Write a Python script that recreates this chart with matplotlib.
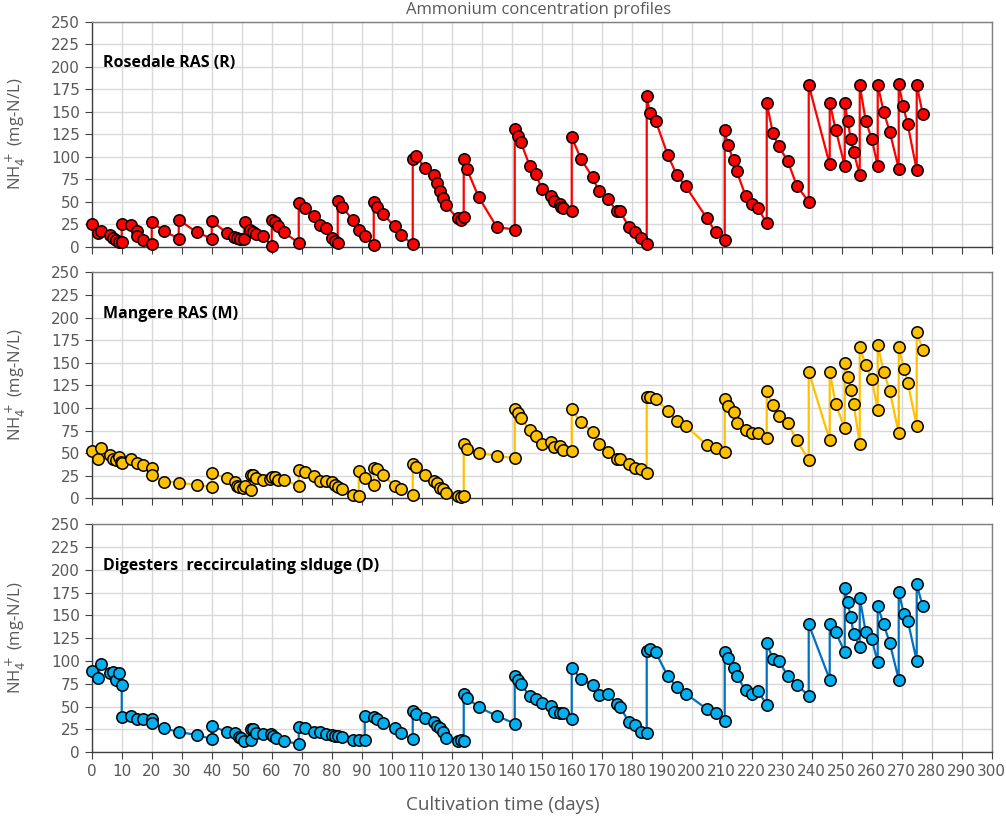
import matplotlib.pyplot as plt
import numpy as np

# Rosedale RAS (R)
days_r = [0, 2, 3, 6, 7, 8, 9, 10, 10, 13, 15, 15, 17, 20, 20, 24, 29, 29, 35, 40,
          40, 45, 47.5, 48.4, 49.5, 50.7, 51, 52.8, 53.7, 54.8, 57, 60, 60, 61, 62, 64,
          69, 69, 71, 74, 76, 78, 80, 81, 82, 82, 83.3, 87, 89, 91, 94, 94, 95, 97,
          101, 103, 107, 107, 108, 111, 114, 115, 116, 117, 118, 122, 123, 124, 124,
          125, 129, 135, 141, 141, 142, 143, 146, 148, 150, 153, 154, 156, 156.5, 157,
          160, 160, 163, 167, 169, 172, 175, 176, 179, 181, 183, 185, 185, 186, 188,
          192, 195, 198, 205, 208, 211, 211, 212, 214, 215, 218, 220, 222, 225, 225,
          227, 229, 232, 235, 239, 239, 246, 246, 248, 251, 251, 252, 253, 254, 256,
          256, 258, 260, 262, 262, 264, 266, 269, 269, 270.5, 272, 275, 275, 277]
nh4_r = [25, 15, 18, 13, 10, 7.5, 5.7, 5, 25, 24.5, 17, 12, 7, 3, 28, 17.5, 9, 30, 16, 9,
         29, 15, 11, 10, 8.5, 9, 28, 19, 16.5, 13.6, 12, 1, 30, 27.5, 22.5, 16,
         4.3, 48.4, 42.6, 34.7, 24.5, 20.7, 9.7, 6.8, 4.3, 51, 44.7, 30, 19, 12, 2, 50, 44, 36.5,
         22.5, 13, 3, 97.8, 101, 88, 80, 71, 62, 54, 46, 31.5, 29.7, 33, 97.8,
         86.7, 55, 22, 19, 131, 123.5, 116.5, 90, 81, 64.6, 56.5, 51, 48, 44.6, 42.8,
         40, 122, 98, 77, 62, 52.7, 40, 40, 22.4, 16, 9.4, 3, 168, 149, 140,
         102, 80, 67, 32, 16, 8, 130, 113, 96, 84, 56, 47.5, 43.5, 26, 160,
         127, 111.5, 95.5, 68, 50, 180, 91.5, 160, 130, 90, 160, 140, 120, 105, 80,
         180, 140, 120, 90, 180, 150, 128, 87, 180.6, 156, 136, 85, 180, 148]

# Mangere RAS (M)
days_m = [0, 2, 3, 6, 7, 8, 9, 9.7, 10, 13, 15, 17, 20, 20, 24, 29, 35, 40, 40, 45,
          47.9, 48.3, 49.2, 50.3, 51, 53, 53, 53.7, 54.8, 57, 59.4, 60, 61, 62, 64,
          69, 69, 71, 74, 76, 78, 80, 81, 82, 83.3, 87, 89, 89, 91, 94, 94, 95, 97,
          101, 103, 107, 107, 108, 111, 114, 115, 116, 117, 118, 122, 123, 124, 124,
          125, 129, 135, 141, 141, 142, 143, 146, 148, 150, 153, 154, 156, 157, 160,
          160, 163, 167, 169, 172, 175, 176, 179, 181, 183, 185, 185, 186, 188, 192,
          195, 198, 205, 208, 211, 211, 212, 214, 215, 218, 220, 222, 225, 225, 227,
          229, 232, 235, 239, 239, 246, 246, 248, 251, 251, 252, 253, 254, 256, 256,
          258, 260, 262, 262, 264, 266, 269, 269, 270.7, 272, 275, 275, 277]
nh4_m = [52, 43, 56, 48, 44, 42, 46, 40.6, 39.5, 43.4, 38.6, 36.8, 33.4, 26, 18.6, 17.5, 14.6, 12.8, 27.9, 22.4,
         18.6, 13.9, 12.5, 11.7, 13.2, 8.7, 25.3, 25.3, 22.4, 20.6, 21.3, 23.5, 23.1, 20.6, 19.9,
         14, 31.7, 29.5, 24.3, 19.5, 18.8, 17.7, 14.7, 12.5, 10.3, 4, 3, 29.9, 22.4, 15, 34, 32.3, 25.3,
         14, 10.3, 3.6, 37.6, 34.3, 25.8, 19.5, 16.6, 11.9, 10.1, 5.8, 2.1, 1.4, 2.1, 59.7,
         54.5, 50.4, 47.2, 44.2, 98.4, 94, 88.5, 75.6, 69.3, 60.1, 61.9, 57.1, 57.8, 53.4, 52.3,
         98.4, 84, 73.7, 60.1, 51.6, 43.5, 43.5, 37.6, 33.2, 32.4, 27.6, 111.7, 112.4, 109.5, 96.9,
         85.5, 80.4, 59, 55.6, 51.6, 109.5, 102.1, 95.1, 83.7, 75.6, 71.9, 71.9, 66.4, 119.1, 102.9,
         91.5, 83.7, 64.2, 42.4, 139.8, 64.2, 139.8, 104, 77.5, 150.1, 134.3, 119.5, 104, 60.1, 167.1,
         147.6, 132.1, 98.1, 169.7, 139.8, 119.1, 71.9, 167.1, 143.5, 128, 80.1, 183.9, 164.1]

# Digesters reccirculating sludge (D)
days_d = [0, 2, 3, 6, 7, 8, 9, 10, 10, 13, 15, 17, 20, 20, 24, 29, 35, 40, 40, 45,
          47.9, 49, 49.9, 50.9, 53, 53, 53.9, 54.8, 57, 59.8, 60.3, 61.4, 64,
          69, 69, 71, 74, 76, 78, 80, 81, 82, 83.3, 87, 89, 91, 91, 94, 95, 97,
          101, 103, 107, 107, 108, 111, 114, 115, 116, 117, 118, 122, 123, 124, 124,
          125, 129, 135, 141, 141, 142, 143, 146, 148, 150, 153, 154, 156, 157, 160,
          160, 163, 167, 169, 172, 175, 176, 179, 181, 183, 185, 185, 186, 188, 192,
          195, 198, 205, 208, 211, 211, 212, 214, 215, 218, 220, 222, 225, 225, 227,
          229, 232, 235, 239, 239, 246, 246, 248, 251, 251, 252, 253, 254, 256, 256,
          258, 260, 262, 262, 264, 266, 269, 269, 270.7, 272, 275, 275, 277]
nh4_d = [89, 81, 96.7, 86.5, 87.6, 79.2, 87.2, 73.8, 38.4, 39.9, 36.2, 36.2, 36.2, 31.8, 26.3, 22.3, 19, 14.6, 28.9, 22.3,
         20.8, 17.2, 15.3, 12.8, 13.5, 25.2, 25.6, 20.8, 20.1, 20.1, 18.3, 15.3, 12.8,
         8.8, 28.1, 26.3, 22.6, 21.9, 19.7, 19, 18.3, 18.3, 17.2, 13.5, 13.5, 13.1, 39.9, 39.2, 36.2, 32.6,
         26.3, 20.8, 14.2, 45.2, 41.9, 37.9, 33.6, 29.2, 26.3, 22.6, 16.1, 12.4, 13.1, 12.4, 63.9,
         59.9, 49.4, 39.9, 31.5, 83.7, 79.3, 74.6, 61.8, 58.1, 54.5, 50.8, 44.6, 42.8, 42.8, 36.6,
         92.8, 80.4, 73.8, 62.9, 63.9, 52.6, 50.1, 33.6, 30, 22.6, 21.5, 111.3, 113.1, 109.5, 83.6,
         71.6, 64.3, 47.5, 43.5, 34.7, 110.2, 102.9, 92, 83.6, 67.9, 63.9, 67.6, 51.9, 119.4, 102.6,
         100.4, 83.6, 73.8, 62.1, 140.2, 79.7, 140.2, 131.4, 109.9, 180.4, 164.3, 148.2, 129.6, 115.4, 169.4,
         131.8, 123.8, 98.6, 159.9, 140.2, 119.8, 79.7, 175.6, 151.5, 144.2, 100, 183.9, 159.9]

panel_labels = ['Rosedale RAS (R)', 'Mangere RAS (M)', 'Digesters  reccirculating slduge (D)']
y_ticks = list(range(0, 251, 25))
x_ticks = list(range(0, 301, 10))

plt.rcParams['font.family'] = ['Liberation Sans Narrow', 'DejaVu Sans']
grey = '#595959'

fig = plt.figure(figsize=(10.06, 8.18), dpi=100)
boxes = [[0.0912, 0.6984, 0.8946, 0.2747],
         [0.0912, 0.3908, 0.8946, 0.2763],
         [0.0912, 0.0803, 0.8946, 0.2791]]
series = [(days_r, nh4_r, '#FF0000', '#FF0000'),
          (days_m, nh4_m, '#FFC000', '#FFC000'),
          (days_d, nh4_d, '#0070C0', '#00B0F0')]

for i, (box, (x, y, lc, fc), label) in enumerate(zip(boxes, series, panel_labels)):
    ax = fig.add_axes(box)
    ax.plot(x, y, color=lc, lw=1.6, marker='o', markersize=8.2,
            markerfacecolor=fc, markeredgecolor='black', markeredgewidth=1.1,
            zorder=3, clip_on=False)
    ax.set_xlim(0, 300)
    ax.set_ylim(0, 250)
    ax.set_xticks(x_ticks)
    ax.set_yticks(y_ticks)
    ax.grid(True, color='#D9D9D9', lw=1)
    ax.set_axisbelow(True)
    for s in ax.spines.values():
        s.set_color('#7F7F7F')
        s.set_linewidth(1.0)
    ax.spines['left'].set_color('#404040')
    ax.spines['bottom'].set_color('#404040')
    ax.tick_params(direction='out', length=5, color='#404040', labelcolor=grey,
                   labelsize=11)
    if i < 2:
        ax.tick_params(axis='x', labelbottom=False)
    ax.set_ylabel('NH$_4^+$ (mg-N/L)', color=grey, fontsize=12, family='Open Sans')
    ax.yaxis.set_label_coords(-0.071, 0.5)
    ax.text(0.013, 0.8, label, transform=ax.transAxes, fontsize=11.5,
            fontweight='bold', family='Open Sans', color='black')

fig.text(0.5, 0.005, 'Cultivation time (days)', ha='center', va='bottom',
         color=grey, fontsize=13.5, family='Open Sans')
fig.text(0.535, 0.998, 'Ammonium concentration profiles', ha='center',
         va='top', color=grey, fontsize=12, family='Open Sans')

fig.savefig('out.png', dpi=100)
